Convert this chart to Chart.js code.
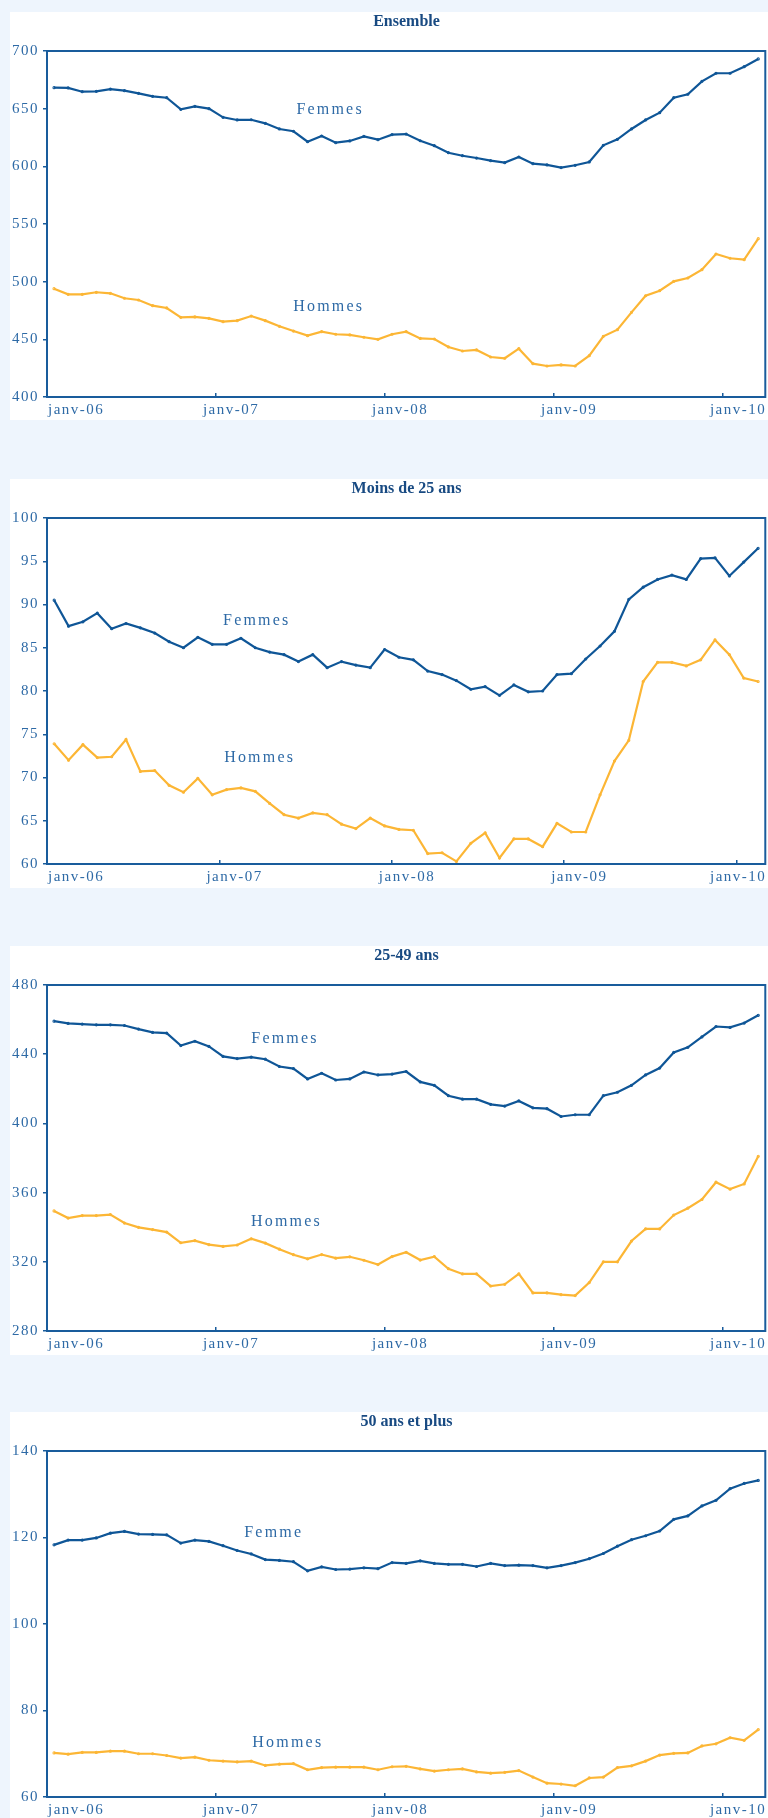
<!DOCTYPE html>
<html>
<head>
<meta charset="utf-8">
<script src="https://cdn.jsdelivr.net/npm/chart.js@4.4.1/dist/chart.umd.min.js"></script>
<style>
  body { margin: 0; background: #eef5fd; width: 768px; height: 1818px; position: relative; overflow: hidden; }
  .panel { position: absolute; left: 10px; width: 758px; background: #fff; }
  .panel canvas { display: block; }
  .title { position: absolute; left: 37px; width: 719px; top: 0; line-height: 20px; text-align: center;
           font: bold 16px "Liberation Serif", serif; color: #184a82; }
</style>
</head>
<body>
<div class="panel" style="top:12px;height:408px"><div class="title">Ensemble</div><canvas id="c1" width="758" height="408"></canvas></div>
<div class="panel" style="top:479px;height:409px"><div class="title">Moins de 25 ans</div><canvas id="c2" width="758" height="409"></canvas></div>
<div class="panel" style="top:946px;height:409px"><div class="title">25-49 ans</div><canvas id="c3" width="758" height="409"></canvas></div>
<div class="panel" style="top:1412px;height:406px"><div class="title">50 ans et plus</div><canvas id="c4" width="758" height="406"></canvas></div>

<script>
// MONTHS (janv-06 .. mars-10)
const months = [
  "janv-06","févr-06","mars-06","avr-06","mai-06","juin-06","juil-06","août-06","sept-06","oct-06","nov-06","déc-06",
  "janv-07","févr-07","mars-07","avr-07","mai-07","juin-07","juil-07","août-07","sept-07","oct-07","nov-07","déc-07",
  "janv-08","févr-08","mars-08","avr-08","mai-08","juin-08","juil-08","août-08","sept-08","oct-08","nov-08","déc-08",
  "janv-09","févr-09","mars-09","avr-09","mai-09","juin-09","juil-09","août-09","sept-09","oct-09","nov-09","déc-09",
  "janv-10","févr-10","mars-10"
];

// ENSEMBLE
const femmesEnsemble = [668.2, 668.0, 664.7, 665.0, 667.0, 665.6, 663.3, 660.7, 659.5, 649.4,
  652.0, 650.0, 642.5, 640.2, 640.4, 637.3, 632.4, 630.4, 621.4, 626.3,
  620.5, 622.0, 626.0, 623.1, 627.5, 628.0, 622.2, 617.9, 611.8, 609.2,
  607.2, 604.9, 603.2, 608.1, 602.3, 601.2, 598.9, 600.9, 603.8, 618.2,
  623.4, 632.4, 640.2, 646.5, 659.5, 662.5, 673.7, 680.7, 680.7, 686.4, 693.1];
const hommesEnsemble = [493.9, 489.0, 489.0, 490.8, 489.9, 485.6, 484.1, 479.2, 477.2, 469.1,
  469.4, 468.2, 465.3, 466.2, 470.2, 466.2, 461.3, 457.2, 453.2, 456.6,
  454.4, 453.8, 451.8, 450.0, 454.4, 456.6, 450.8, 450.3, 443.4, 439.9,
  440.8, 434.7, 433.6, 441.9, 428.9, 426.9, 427.8, 426.9, 435.8, 452.6,
  458.4, 473.4, 487.8, 492.2, 500.3, 503.2, 510.4, 524.0, 520.3, 519.1, 537.3];

// MOINS DE 25 ANS (janv-06 .. févr-10)
const femmesJeunes = [90.5, 87.5, 88.0, 89.0, 87.2, 87.8, 87.3, 86.7, 85.7, 85.0,
  86.2, 85.4, 85.4, 86.1, 85.0, 84.5, 84.2, 83.4, 84.2, 82.7,
  83.4, 83.0, 82.7, 84.8, 83.9, 83.6, 82.3, 81.9, 81.2, 80.2,
  80.5, 79.5, 80.7, 79.9, 80.0, 81.9, 82.0, 83.7, 85.2, 86.9,
  90.6, 92.0, 92.9, 93.4, 92.9, 95.3, 95.4, 93.3, 94.9, 96.5];
const hommesJeunes = [73.9, 72.0, 73.8, 72.3, 72.4, 74.4, 70.7, 70.8, 69.1, 68.3,
  69.9, 68.0, 68.6, 68.8, 68.4, 67.0, 65.7, 65.3, 65.9, 65.7,
  64.6, 64.1, 65.3, 64.4, 64.0, 63.9, 61.2, 61.3, 60.3, 62.4,
  63.6, 60.7, 62.9, 62.9, 62.0, 64.7, 63.7, 63.7, 68.0, 71.9,
  74.3, 81.1, 83.3, 83.3, 82.9, 83.6, 85.9, 84.2, 81.5, 81.1];

// 25-49 ANS
const femmesMilieu = [459.1, 457.8, 457.4, 457.0, 457.0, 456.6, 454.5, 452.6, 452.2, 445.0,
  447.5, 444.5, 438.7, 437.5, 438.3, 437.1, 432.9, 431.7, 425.7, 429.0,
  425.1, 425.7, 429.7, 428.0, 428.5, 430.0, 424.0, 422.0, 416.0, 414.0,
  414.0, 411.0, 410.0, 413.0, 409.0, 408.5, 404.0, 405.0, 405.0, 416.0,
  418.0, 422.0, 428.0, 432.0, 441.0, 444.0, 450.0, 456.0, 455.5, 458.0, 462.5];
const hommesMilieu = [349.4, 345.3, 346.7, 346.7, 347.3, 342.4, 339.9, 338.6, 337.2, 331.0,
  332.2, 329.9, 328.9, 329.7, 333.3, 330.8, 327.3, 324.1, 321.7, 324.2,
  322.1, 322.9, 320.9, 318.4, 323.0, 325.5, 321.0, 323.0, 316.0, 313.0,
  313.0, 306.0, 307.0, 313.0, 302.0, 302.0, 301.0, 300.5, 308.0, 320.0,
  320.0, 332.0, 339.0, 339.0, 347.0, 351.0, 356.0, 366.0, 362.0, 365.0, 381.0];

// 50 ANS ET PLUS
const femmesSeniors = [118.3, 119.4, 119.4, 119.9, 121.0, 121.4, 120.8, 120.7, 120.6, 118.7,
  119.4, 119.1, 118.1, 117.0, 116.2, 114.9, 114.7, 114.4, 112.3, 113.2,
  112.6, 112.7, 113.0, 112.8, 114.2, 114.0, 114.6, 114.0, 113.8, 113.8,
  113.3, 114.0, 113.5, 113.6, 113.5, 113.0, 113.5, 114.2, 115.1, 116.3,
  118.0, 119.5, 120.4, 121.5, 124.2, 125.0, 127.3, 128.6, 131.3, 132.5, 133.2];
const hommesSeniors = [70.2, 69.9, 70.3, 70.3, 70.6, 70.6, 70.0, 70.0, 69.6, 69.0,
  69.2, 68.5, 68.3, 68.1, 68.3, 67.3, 67.6, 67.7, 66.3, 66.8,
  66.9, 66.9, 66.9, 66.3, 67.0, 67.1, 66.5, 66.0, 66.3, 66.5,
  65.8, 65.5, 65.7, 66.1, 64.6, 63.2, 63.0, 62.6, 64.4, 64.6,
  66.8, 67.2, 68.3, 69.7, 70.1, 70.2, 71.8, 72.3, 73.7, 73.1, 75.6];

// TEXT LABELS ON THE CURVES: [text, month index, value]
const notesEnsemble = [["Femmes", 19.6, 648.8], ["Hommes", 19.5, 478.3]];
const notesJeunes = [["Femmes", 14.1, 88.1], ["Hommes", 14.3, 72.3]];
const notesMilieu = [["Femmes", 16.4, 449.1], ["Hommes", 16.5, 343.4]];
const notesSeniors = [["Femme", 15.6, 121.2], ["Hommes", 16.6, 72.6]];

const FRAME = "#195c9c";
const TEXT = "#2e6aa6";
const BLUE = "#0f5697";
const ORANGE = "#fcb635";
const SERIF = '"Liberation Serif", serif';

const framePlugin = {
  id: "frame",
  beforeDraw(chart) {
    chart.ctx.letterSpacing = "1.5px";
  },
  afterDraw(chart, args, opts) {
    const { ctx, chartArea: a, scales: { x, y } } = chart;
    ctx.save();
    ctx.strokeStyle = FRAME;
    ctx.lineWidth = 2;
    ctx.strokeRect(a.left, a.top, a.right - a.left, a.bottom - a.top);

    // x labels, only januaries, kept inside the frame
    ctx.fillStyle = TEXT;
    ctx.font = "15px " + SERIF;
    ctx.letterSpacing = "1.5px";
    ctx.textAlign = "left";
    ctx.textBaseline = "middle";
    x.ticks.forEach((t) => {
      const lab = chart.data.labels[t.value];
      if (!lab.startsWith("janv")) return;
      const w = ctx.measureText(lab).width;
      let left = x.getPixelForValue(t.value) + 8 - w / 2;
      left = Math.max(a.left + 1, Math.min(left, a.right - w + 1));
      ctx.fillText(lab, left, a.bottom + 13);
    });

    // Femmes / Hommes
    ctx.font = "16px " + SERIF;
    ctx.letterSpacing = "2.2px";
    ctx.textAlign = "center";
    opts.notes.forEach(([txt, at, val]) => {
      ctx.fillText(txt, x.getPixelForValue(at), y.getPixelForValue(val));
    });
    ctx.restore();
  },
};

function makeChart(id, labels, femmes, hommes, yMin, yMax, yStep, notes) {
  const canvas = document.getElementById(id);
  const xh = canvas.height - 39 - 346;
  return new Chart(canvas, {
    type: "line",
    data: {
      labels: labels,
      datasets: [
        { label: "Femmes", data: femmes, borderColor: BLUE, backgroundColor: BLUE,
          borderWidth: 2.2, pointRadius: 0.5, pointHoverRadius: 0.5, tension: 0, fill: false },
        { label: "Hommes", data: hommes, borderColor: ORANGE, backgroundColor: ORANGE,
          borderWidth: 2.2, pointRadius: 0.5, pointHoverRadius: 0.5, tension: 0, fill: false },
      ],
    },
    options: {
      responsive: false,
      animation: false,
      layout: { padding: { top: 39, right: 2, bottom: 0, left: 0 } },
      plugins: {
        legend: { display: false },
        tooltip: { enabled: false },
        title: { display: false },
        frame: { notes: notes },
      },
      scales: {
        x: {
          type: "category",
          offset: true,
          border: { display: false },
          grid: {
            offset: true,
            drawOnChartArea: false,
            drawTicks: true,
            tickLength: -4,
            lineWidth: 1.5,
            color: (c) => (labels[c.index] && labels[c.index].startsWith("janv") ? FRAME : "rgba(0,0,0,0)"),
          },
          ticks: { display: false, autoSkip: false },
          afterFit(s) { s.height = xh; },
        },
        y: {
          min: yMin,
          max: yMax,
          border: { display: false },
          grid: { drawOnChartArea: false, drawTicks: true, tickLength: 4, color: FRAME, lineWidth: 1.5 },
          ticks: { stepSize: yStep, color: TEXT, padding: 4, font: { family: SERIF, size: 15 } },
          afterFit(s) { s.width = 37; },
        },
      },
    },
    plugins: [framePlugin],
  });
}

makeChart("c1", months, femmesEnsemble, hommesEnsemble, 400, 700, 50, notesEnsemble);
makeChart("c2", months.slice(0, 50), femmesJeunes, hommesJeunes, 60, 100, 5, notesJeunes);
makeChart("c3", months, femmesMilieu, hommesMilieu, 280, 480, 40, notesMilieu);
makeChart("c4", months, femmesSeniors, hommesSeniors, 60, 140, 20, notesSeniors);
</script>
</body>
</html>
